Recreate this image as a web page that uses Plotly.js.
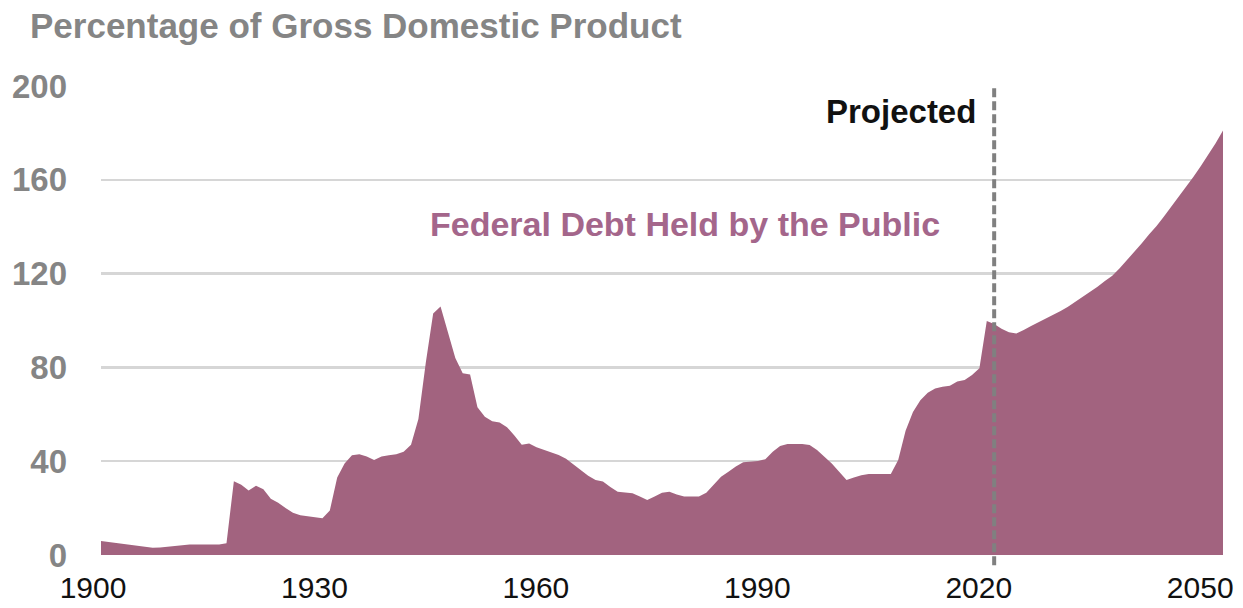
<!DOCTYPE html>
<html>
<head>
<meta charset="utf-8">
<script src="https://cdn.plot.ly/plotly-3.0.1.min.js"></script>
<style>html,body{margin:0;padding:0;background:#fff;}#chart{width:1243px;height:608px;}</style>
</head>
<body>
<div id="chart"></div>
<script>
// Federal debt held by the public, percentage of GDP
const startYear = 1900;
const debtHistorical = [
  6.0, 5.6, 5.2, 4.8, 4.4, 3.9, 3.4, 3.1, 3.2, 3.5,        // 1900-1909
  3.9, 4.3, 4.5, 4.5, 4.5, 4.5, 4.5, 5.0, 31.5, 30.0,      // 1910-1919
  27.5, 29.5, 28.0, 24.0, 22.3, 20.0, 18.0, 17.0, 16.5, 16.0, // 1920-1929
  15.7, 19.0, 33.0, 39.0, 42.5, 43.0, 42.0, 40.5, 42.0, 42.5, // 1930-1939
  43.0, 44.0, 47.0, 58.0, 82.0, 103.0, 106.0, 95.0, 84.0, 77.5, // 1940-1949
  77.0, 63.0, 59.0, 57.0, 56.5, 54.5, 51.0, 47.0, 47.6, 46.0, // 1950-1959
  44.8, 43.6, 42.6, 41.0, 38.5, 36.2, 33.8, 32.0, 31.3, 29.0, // 1960-1969
  27.0, 26.6, 26.3, 25.0, 23.5, 24.9, 26.5, 27.0, 25.8, 25.0, // 1970-1979
  25.0, 25.0, 26.5, 30.0, 33.4, 35.5, 37.7, 39.5, 39.8, 40.1, // 1980-1989
  40.8, 44.0, 46.5, 47.3, 47.3, 47.3, 46.9, 44.8, 41.9, 39.0, // 1990-1999
  35.5, 32.0, 33.0, 34.0, 34.5, 34.5, 34.5, 34.5, 40.5, 53.0, // 2000-2009
  61.0, 66.0, 69.2, 71.0, 71.8, 72.2, 74.0, 74.6, 76.8, 79.6, // 2010-2019
  99.8, 98.5                                                // 2020-2021
];
const debtProjected = [
  96.5, 95.0, 94.5, 95.9, 97.7, 99.2, 100.9, 102.3, 104.0, 105.9, // 2022-2031
  108.0, 110.1, 112.3, 114.4, 116.8, 119.1, 122.3, 125.8, 129.3, 132.9, // 2032-2041
  136.8, 140.3, 144.3, 148.5, 152.8, 157.1, 161.3, 165.9, 170.6, 175.6, // 2042-2051
  181.0                                                                 // 2052
];
const projectionStart = 2021;
const xTickVals = [1900, 1930, 1960, 1990, 2020, 2050];
const yTickVals = [0, 40, 80, 120, 160, 200];
const titleText = 'Percentage of Gross Domestic Product';
const seriesLabel = 'Federal Debt Held by the Public';
const projectedLabel = 'Projected';

const debt = debtHistorical.concat(debtProjected);
const years = debt.map((_, i) => startYear + i);

const trace = {
  x: years,
  y: debt,
  type: 'scatter',
  mode: 'lines',
  fill: 'tozeroy',
  fillcolor: '#a2637f',
  line: {width: 0, color: '#a2637f'},
  hoverinfo: 'x+y'
};

const layout = {
  width: 1243,
  height: 608,
  margin: {l: 101, r: 20, t: 86, b: 53},
  paper_bgcolor: '#ffffff',
  plot_bgcolor: '#ffffff',
  showlegend: false,
  font: {family: 'Liberation Sans, Arial, sans-serif'},
  title: {
    text: titleText,
    x: 30 / 1243, xanchor: 'left', xref: 'container',
    y: 1 - 26 / 608, yanchor: 'middle', yref: 'container',
    font: {family: 'Liberation Sans, Arial, sans-serif', size: 35, color: '#858585', weight: 'bold'}
  },
  xaxis: {
    range: [startYear, years[years.length - 1]],
    tickvals: xTickVals,
    ticktext: xTickVals.map(String),
    showgrid: false,
    zeroline: false,
    showline: false,
    ticks: '',
    ticklabelshift: -8,
    ticklabelstandoff: 12,
    tickfont: {family: 'Liberation Sans, Arial, sans-serif', size: 30, color: '#111111'},
    fixedrange: true
  },
  yaxis: {
    range: [0, 200],
    tickvals: yTickVals,
    showgrid: true,
    gridcolor: '#d6d6d6',
    gridwidth: 2.5,
    zeroline: false,
    showline: false,
    ticks: '',
    ticklabelstandoff: 33,
    tickfont: {family: 'Liberation Sans, Arial, sans-serif', size: 33, color: '#858585', weight: 'bold'},
    fixedrange: true
  },
  shapes: [{
    type: 'line',
    xref: 'x', yref: 'paper',
    x0: projectionStart, x1: projectionStart,
    y0: -0.022, y1: 0.995,
    line: {color: '#808080', width: 4, dash: '9px,4px'},
    layer: 'above'
  }],
  annotations: [
    {
      text: seriesLabel,
      xref: 'paper', yref: 'paper',
      x: (428 - 101) / 1122, y: (555 - 224) / 469,
      xanchor: 'left', yanchor: 'middle',
      showarrow: false,
      font: {family: 'Liberation Sans, Arial, sans-serif', size: 34, color: '#a4668b', weight: 'bold'}
    },
    {
      text: projectedLabel,
      xref: 'x', yref: 'paper',
      x: projectionStart, y: (555 - 112) / 469,
      xanchor: 'right', yanchor: 'middle',
      xshift: -16,
      showarrow: false,
      font: {family: 'Liberation Sans, Arial, sans-serif', size: 33, color: '#111111', weight: 'bold'}
    }
  ]
};

Plotly.newPlot('chart', [trace], layout, {displayModeBar: false, staticPlot: true});
</script>
</body>
</html>
